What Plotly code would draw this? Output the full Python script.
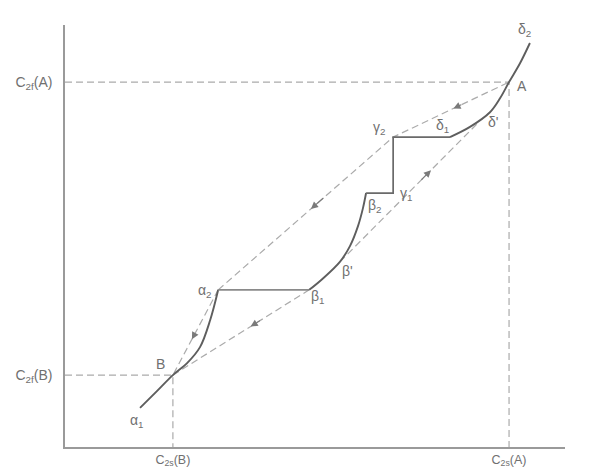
import plotly.graph_objects as go

# ---- data (arbitrary concentration units) ----
# solid equilibrium path alpha1 -> alpha2
alpha_x = [16.9, 20.7, 24.3, 27.5, 30.4, 32.7, 34.5]
alpha_y = [8.8, 12.6, 16.2, 18.9, 22.5, 28.6, 35.4]
# plateau alpha2 -> beta1
plat1_x = [34.5, 55.0]
plat1_y = [35.4, 35.4]
# curve beta1 -> beta2
beta_x = [55.0, 57.9, 61.9, 64.2, 66.0, 67.1, 67.8]
beta_y = [35.4, 37.8, 41.7, 45.3, 49.8, 53.8, 57.2]
# step beta2 -> gamma1 -> gamma2 -> delta1
step_x = [67.8, 73.9, 73.9, 86.7]
step_y = [57.2, 57.2, 69.8, 69.8]
# curve delta1 -> delta2
delta_x = [86.7, 91.2, 95.7, 98.0, 100.0, 102.5, 104.7]
delta_y = [69.8, 72.1, 75.4, 78.6, 82.2, 86.5, 91.0]

# key points
A = (100.0, 82.2)
B = (24.3, 16.2)
alpha2 = (34.5, 35.4)
beta1 = (55.0, 35.4)
beta_p = (61.9, 41.7)
gamma2 = (73.9, 69.8)
delta_p = (93.0, 73.0)

# point labels
label_text = ["A", "B", "α<sub>1</sub>", "α<sub>2</sub>", "β<sub>1</sub>", "β'", "β<sub>2</sub>",
              "γ<sub>1</sub>", "γ<sub>2</sub>", "δ<sub>1</sub>", "δ'", "δ<sub>2</sub>"]
label_x = [102.9, 21.6, 16.2, 31.5, 57.0, 63.6, 69.7, 76.8, 70.6, 85.1, 96.3, 103.4]
label_y = [81.2, 18.7, 5.9, 35.1, 33.8, 39.6, 54.3, 57.0, 71.8, 72.2, 73.1, 93.9]

# axis ticks
x_tickvals = [B[0], A[0]]
x_ticktext = ["C<sub>2s</sub>(B)", "C<sub>2s</sub>(A)"]
y_tickvals = [B[1], A[1]]
y_ticktext = ["C<sub>2f</sub>(B)", "C<sub>2f</sub>(A)"]

SOLID = "#5e5e5e"
DASH = "#ababab"
TXT = "#707070"
FONT = "Liberation Sans"

fig = go.Figure()

def solid(x, y, shape="spline", color=SOLID, width=1.9):
    fig.add_trace(go.Scatter(x=x, y=y, mode="lines", line=dict(color=color, width=width, shape=shape),
                             hoverinfo="skip", showlegend=False, cliponaxis=False))

def dashed(x, y, color=DASH):
    fig.add_trace(go.Scatter(x=x, y=y, mode="lines", line=dict(color=color, width=1.2, dash="7px,4px"),
                             hoverinfo="skip", showlegend=False, cliponaxis=False))

# guide lines
dashed([0, A[0], A[0]], [A[1], A[1], 0])
dashed([0, B[0], B[0]], [B[1], B[1], 0])
# operating dashed lines
dashed([B[0], beta1[0]], [B[1], beta1[1]])
dashed([alpha2[0], B[0]], [alpha2[1], B[1]])
dashed([alpha2[0], gamma2[0], A[0]], [alpha2[1], gamma2[1], A[1]])
dashed([beta_p[0], delta_p[0]], [beta_p[1], delta_p[1]])

# solid path
solid(alpha_x, alpha_y)
solid(plat1_x, plat1_y, "linear", color="#8a8a8a", width=1.6)
solid(beta_x, beta_y)
solid(step_x, step_y, "linear", color="#6a6a6a", width=1.7)
solid(delta_x, delta_y)

# arrows along dashed lines (head points from p_from towards p_to)
def arrow(p_from, p_to, frac):
    tx = p_from[0] + (p_to[0] - p_from[0]) * frac
    ty = p_from[1] + (p_to[1] - p_from[1]) * frac
    bx = p_from[0] + (p_to[0] - p_from[0]) * (frac - 0.08)
    by = p_from[1] + (p_to[1] - p_from[1]) * (frac - 0.08)
    fig.add_annotation(x=tx, y=ty, ax=bx, ay=by, xref="x", yref="y", axref="x", ayref="y",
                       showarrow=True, arrowhead=2, arrowsize=1.3, arrowwidth=1.1,
                       arrowcolor="#7a7a7a", text="")

arrow(beta1, B, 0.43)
arrow(alpha2, B, 0.58)
arrow(gamma2, alpha2, 0.47)
arrow(A, gamma2, 0.48)
arrow(beta_p, delta_p, 0.66)

for t, x, y in zip(label_text, label_x, label_y):
    fig.add_annotation(x=x, y=y, text=t, showarrow=False, xref="x", yref="y",
                       font=dict(family=FONT, size=14, color=TXT))

# axis titles
fig.add_annotation(x=117.6, y=1.2, text="C<sub>2s</sub>", showarrow=False, xref="x", yref="y",
                   font=dict(family=FONT, size=14, color=TXT))
fig.add_annotation(x=-0.6, y=97.6, text="C<sub>2f</sub>", showarrow=False, xref="x", yref="y",
                   font=dict(family=FONT, size=14, color=TXT))

# the page body adds an 8px margin, so the figure is 8px smaller and shifted
fig.update_layout(
    width=595, height=462,
    margin=dict(l=57, r=38, t=17, b=23, autoexpand=False),
    paper_bgcolor="white", plot_bgcolor="white",
    xaxis=dict(range=[0, 112.6], showgrid=False, zeroline=False, showline=True, automargin=False,
               linecolor="#9a9a9a", linewidth=1.5, tickvals=x_tickvals, ticktext=x_ticktext,
               ticks="", ticklabelstandoff=0, tickfont=dict(family=FONT, size=12.5, color=TXT),
               fixedrange=True),
    yaxis=dict(range=[0, 95.05], showgrid=False, zeroline=False, showline=True, automargin=False,
               linecolor="#9a9a9a", linewidth=1.5, tickvals=y_tickvals, ticktext=y_ticktext,
               ticks="", ticklabelstandoff=8, tickfont=dict(family=FONT, size=14, color=TXT),
               fixedrange=True),
    showlegend=False,
)

fig.write_html("out.html")
